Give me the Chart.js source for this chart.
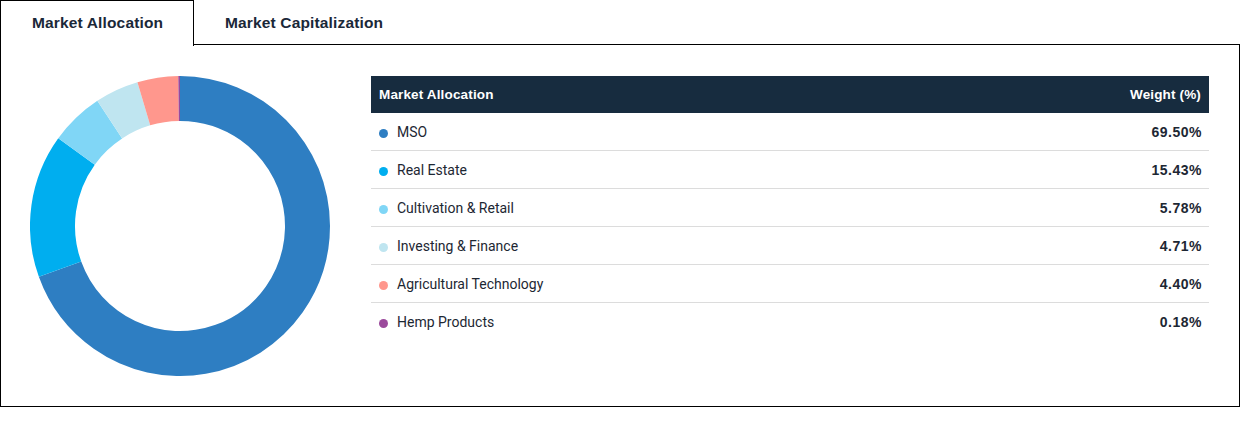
<!DOCTYPE html>
<html><head><meta charset="utf-8">
<script src="https://cdn.jsdelivr.net/npm/chart.js@4"></script>
<style>
html,body{margin:0;padding:0;background:#fff;}
body{width:1240px;height:424px;position:relative;font-family:Roboto,"Liberation Sans",Arial,sans-serif;color:#1d2733;}
.tab1{position:absolute;left:0;top:0;border:1px solid #000;border-bottom:none;background:#fff;z-index:2;box-sizing:border-box;width:194px;height:46px;}
.tab1 span,.tab2 span{position:absolute;font-family:"Liberation Sans",Arial,sans-serif;font-weight:700;font-size:15.5px;letter-spacing:0.15px;color:#1a2838;white-space:nowrap;}
.tab1 span{top:13px;}
.tab2 span{top:14px;}
.tab2{position:absolute;left:194px;top:0;width:220px;height:45px;}
.panel{position:absolute;left:0;top:44px;width:1240px;height:363px;border:1px solid #000;box-sizing:border-box;}
#wrap{position:absolute;left:30px;top:76px;width:300px;height:300px;}
table{position:absolute;left:371px;top:76px;width:838px;border-collapse:collapse;}
th{background:#172c3f;color:#fff;font-family:"Liberation Sans",Arial,sans-serif;font-size:13.5px;letter-spacing:0.15px;font-weight:700;height:37px;padding:0 8px;text-align:left;}
th.r{text-align:right;}
td{height:37px;border-bottom:1px solid #dcdcdc;font-size:14px;padding:0 8px;color:#1d2733;}
tr:last-child td{border-bottom:none;}
td.r{text-align:right;font-family:"Liberation Sans",Arial,sans-serif;font-weight:700;font-size:14px;letter-spacing:0.5px;padding-right:7px;}
.dot{display:inline-block;width:9px;height:9px;border-radius:50%;margin-right:9px;vertical-align:-1px;}
</style></head>
<body>
<div class="panel"></div>
<div class="tab1"><span style="left:31px">Market Allocation</span></div>
<div class="tab2"><span style="left:31px">Market Capitalization</span></div>
<div id="wrap"><canvas id="c"></canvas></div>
<table id="t"><thead><tr><th>Market Allocation</th><th class="r">Weight (%)</th></tr></thead><tbody></tbody></table>
<script>
const categories = ["MSO","Real Estate","Cultivation & Retail","Investing & Finance","Agricultural Technology","Hemp Products"];
const weights = [69.50, 15.43, 5.78, 4.71, 4.40, 0.18];
const colors = ["#2e7ec2","#00aeef","#80d6f6","#bfe5f0","#ff978d","#9b4a9c"];

const tb = document.querySelector('#t tbody');
categories.forEach((c,i)=>{
  const tr=document.createElement('tr');
  const td1=document.createElement('td');
  const d=document.createElement('span');d.className='dot';d.style.background=colors[i];
  td1.appendChild(d);td1.appendChild(document.createTextNode(c));
  const td2=document.createElement('td');td2.className='r';td2.textContent=weights[i].toFixed(2)+'%';
  tr.appendChild(td1);tr.appendChild(td2);tb.appendChild(tr);
});

new Chart(document.getElementById('c'),{
  type:'doughnut',
  data:{labels:categories,datasets:[{data:weights,backgroundColor:colors,borderWidth:0,hoverOffset:0,offset:0}]},
  options:{responsive:true,maintainAspectRatio:false,animation:false,cutout:'70%',
    layout:{padding:0},
    plugins:{legend:{display:false},tooltip:{enabled:false}}}
});
</script>
</body></html>
